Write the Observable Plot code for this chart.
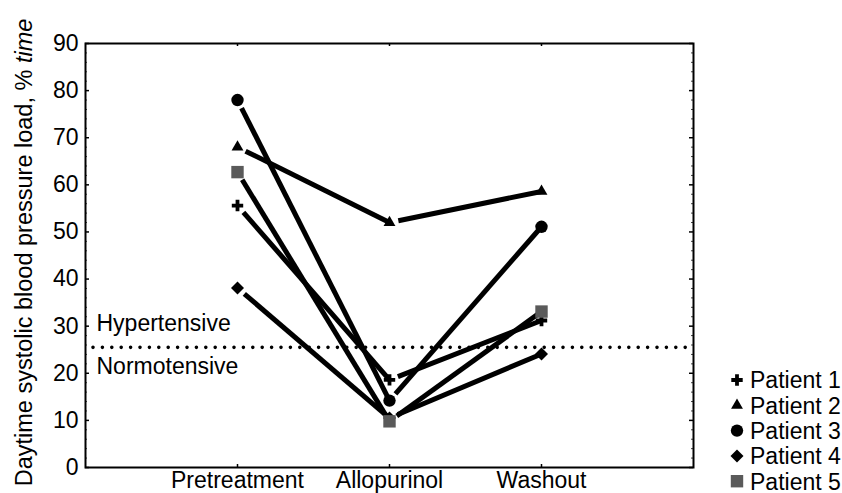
<!DOCTYPE html>
<html>
<head>
<meta charset="utf-8">
<script src="https://cdn.jsdelivr.net/npm/d3@7"></script>
<script src="https://cdn.jsdelivr.net/npm/@observablehq/plot@0.6"></script>
<style>
  html, body { margin: 0; padding: 0; background: white; }
  #chart { width: 842px; height: 493px; overflow: hidden; }
</style>
</head>
<body>
<div id="chart"></div>
<script>
// ---- Data ----
const categories = ["Pretreatment", "Allopurinol", "Washout"];
const patients = ["Patient 1", "Patient 2", "Patient 3", "Patient 4", "Patient 5"];
const patient1 = [55.6, 18.6, 31.2];
const patient2 = [68.0, 52.0, 58.6];
const patient3 = [78.0, 14.2, 51.1];
const patient4 = [38.1, 10.5, 24.1];
const patient5 = [62.7, 9.8, 33.1];
const threshold = 25.5;
const yTicks = [0, 10, 20, 30, 40, 50, 60, 70, 80, 90];
const yMinorTicks = [2, 4, 6, 8, 12, 14, 16, 18, 22, 24, 26, 28, 32, 34, 36, 38, 42, 44, 46, 48, 52, 54, 56, 58, 62, 64, 66, 68, 72, 74, 76, 78, 82, 84, 86, 88];
const zoneLabels = ["Hypertensive", "Normotensive"];
const yTitle = "Daytime systolic blood pressure load, % ";
const yTitleItalic = "time";

const series = [patient1, patient2, patient3, patient4, patient5];

// ---- Styles (not data) ----
const markerStyle = [
  {symbol: "cross", r: 4.8, fill: "black", rotate: 0},
  {symbol: "triangle", r: 4.4, fill: "black", rotate: 0},
  {symbol: "circle", r: 6.2, fill: "black", rotate: 0},
  {symbol: "square", r: 5.2, fill: "black", rotate: 45},
  {symbol: "square", r: 7, fill: "#5a5a5a", rotate: 0}
];

const points = patients.flatMap((p, i) => series[i].map((v, j) => ({patient: p, idx: i, x: j + 1, y: v})));
const segments = patients.flatMap((p, i) => [0, 1].map(j => ({
  patient: p, x1: j + 1, y1: series[i][j], x2: j + 2, y2: series[i][j + 1]
})));

const font = "'Liberation Sans', Arial, Helvetica, sans-serif";
const W = 842, H = 493, mL = 85, mR = 149, mT = 43, mB = 26;
const frameW = W - mL - mR;
const frameH = H - mT - mB;

const dotMarks = patients.map((p, i) => Plot.dot(points.filter(d => d.idx === i), {
  x: "x", y: "y",
  symbol: markerStyle[i].symbol, r: markerStyle[i].r,
  fill: markerStyle[i].fill, stroke: "none", rotate: markerStyle[i].rotate
}));

const chart = Plot.plot({
  width: W, height: H,
  marginLeft: mL, marginRight: mR, marginTop: mT, marginBottom: mB,
  x: {domain: [0, 4]},
  y: {domain: [0, 90]},
  style: {fontFamily: font, fontSize: "23px", color: "black", background: "white", overflow: "visible"},
  marks: [
    Plot.ruleY([threshold], {stroke: "black", strokeWidth: 3.6, strokeDasharray: "0,9.4", strokeLinecap: "round", insetLeft: 8, insetRight: 3}),
    Plot.arrow(segments, {
      x1: "x1", y1: "y1", x2: "x2", y2: "y2",
      stroke: "black", strokeWidth: 5, headLength: 0, insetStart: 9, insetEnd: 0,
      strokeLinecap: "butt"
    }),
    ...dotMarks,
    Plot.text([zoneLabels[0]], {x: 0, y: threshold, text: d => d, textAnchor: "start", dx: 11, dy: -24, fill: "black"}),
    Plot.text([zoneLabels[1]], {x: 0, y: threshold, text: d => d, textAnchor: "start", dx: 11, dy: 19, fill: "black"}),
    // inward ticks on left/right frame edges
    Plot.tickY(yMinorTicks, {y: d => d, stroke: "#444", strokeWidth: 1, insetRight: frameW - 2}),
    Plot.tickY(yMinorTicks, {y: d => d, stroke: "#444", strokeWidth: 1, insetLeft: frameW - 2}),
    Plot.tickY(yTicks, {y: d => d, stroke: "black", strokeWidth: 1.5, insetRight: frameW - 4}),
    Plot.tickY(yTicks, {y: d => d, stroke: "black", strokeWidth: 1.5, insetLeft: frameW - 4}),
    Plot.tickX([1, 2, 3], {x: d => d, stroke: "black", strokeWidth: 1.5, insetTop: frameH - 3}),
    Plot.tickX([1, 2, 3], {x: d => d, stroke: "black", strokeWidth: 1.5, insetBottom: frameH - 3}),
    Plot.frame({stroke: "black", strokeWidth: 2}),
    Plot.axisY({ticks: yTicks, tickSize: 0, tickPadding: 7, label: null, fontSize: 23}),
    Plot.axisX({ticks: [1, 2, 3], tickFormat: d => categories[d - 1], tickSize: 0, tickPadding: 4, label: null, fontSize: 23})
  ]
});

const svg = d3.select(chart);

// Y-axis title with italic part
const t = svg.append("text")
  .attr("transform", `translate(32, ${(15 + 490) / 2}) rotate(-90)`)
  .attr("text-anchor", "middle")
  .attr("font-family", font)
  .attr("font-size", 23.5)
  .attr("fill", "black");
t.append("tspan").text(yTitle);
t.append("tspan").attr("font-style", "italic").text(yTitleItalic);

// Legend
const symbolMap = {cross: d3.symbolCross, triangle: d3.symbolTriangle, circle: d3.symbolCircle, square: d3.symbolSquare};
const lg = svg.append("g").attr("font-family", font).attr("font-size", 23).attr("text-anchor", "start");
patients.forEach((p, i) => {
  const cy = 380 + i * 25.3;
  const ms = markerStyle[i];
  const size = Math.PI * ms.r * ms.r;
  lg.append("path")
    .attr("d", d3.symbol(symbolMap[ms.symbol], size)())
    .attr("transform", `translate(737, ${cy}) rotate(${ms.rotate})`)
    .attr("fill", ms.fill);
  lg.append("text")
    .attr("x", 750).attr("y", cy + 8.3)
    .attr("text-anchor", "start")
    .attr("fill", "black")
    .text(p);
});

document.getElementById("chart").appendChild(chart);
</script>
</body>
</html>
